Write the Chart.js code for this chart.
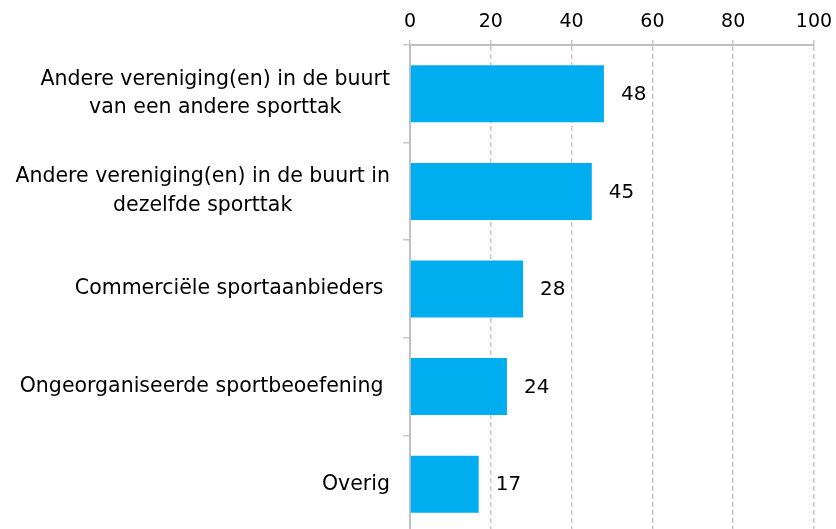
<!DOCTYPE html>
<html><head><meta charset="utf-8">
<script src="https://cdn.jsdelivr.net/npm/chart.js@4"></script>
<style>html,body{margin:0;padding:0;background:#fff;overflow:hidden;width:836px;height:529px}</style>
</head><body>
<canvas id="c" width="836" height="545"></canvas>
<script>
const categories = [
  ["Andere vereniging(en) in de buurt", "van een andere sporttak"],
  ["Andere vereniging(en) in de buurt in", "dezelfde sporttak"],
  ["Commerciële sportaanbieders "],
  ["Ongeorganiseerde sportbeoefening "],
  ["Overig"]
];
const values = [48, 45, 28, 24, 17];
const xTicks = [0, 20, 40, 60, 80, 100];

const FONT = '"DejaVu Sans", Verdana, sans-serif';
const GRID = '#c8c8c8';

const yLabelPlugin = {
  id: 'yLabels',
  afterDraw(chart) {
    const ctx = chart.ctx;
    const ys = chart.scales.y;
    const right = ys.right - 7 - 13;
    const lh = 28.5;
    ctx.save();
    ctx.font = '20.5px ' + FONT;
    ctx.fillStyle = '#000';
    ctx.textBaseline = 'middle';
    ctx.textAlign = 'center';
    categories.forEach((lines, i) => {
      const cy = ys.getPixelForTick(i);
      const w = Math.max(...lines.map(l => ctx.measureText(l).width));
      const cx = right - w / 2;
      lines.forEach((l, k) => {
        ctx.fillText(l, cx, cy - (lines.length - 1) * lh / 2 + k * lh);
      });
    });
    ctx.restore();
  }
};

const valueLabelPlugin = {
  id: 'valueLabels',
  afterDatasetsDraw(chart) {
    const ctx = chart.ctx;
    const meta = chart.getDatasetMeta(0);
    ctx.save();
    ctx.font = '20px ' + FONT;
    ctx.fillStyle = '#000';
    ctx.textBaseline = 'middle';
    ctx.textAlign = 'left';
    meta.data.forEach((bar, i) => {
      ctx.fillText(String(values[i]), bar.x + 17, bar.y + 1);
    });
    ctx.restore();
  }
};

new Chart(document.getElementById('c'), {
  type: 'bar',
  data: {
    labels: categories,
    datasets: [{
      data: values,
      backgroundColor: '#00AEEF',
      borderWidth: 0,
      barPercentage: 0.584,
      categoryPercentage: 1
    }]
  },
  options: {
    indexAxis: 'y',
    responsive: false,
    animation: false,
    devicePixelRatio: 1,
    layout: { padding: { left: 0, right: 22, top: 0, bottom: 12 } },
    plugins: { legend: { display: false }, tooltip: { enabled: false }, title: { display: false } },
    scales: {
      x: {
        position: 'top',
        min: 0, max: 100,
        afterBuildTicks: s => { s.ticks = xTicks.map(v => ({ value: v })); },
        afterFit: s => { s.height = 45; s.paddingLeft = 0; s.paddingRight = 0; },
        grid: { color: GRID, lineWidth: 1.5, tickLength: 5, drawTicks: true },
        border: { color: '#c0c0c0', width: 2, dash: [5, 3] },
        ticks: { font: { family: FONT, size: 19 }, color: '#000', padding: 7, maxRotation: 0 }
      },
      y: {
        afterFit: s => { s.width = 410; },
        grid: { drawOnChartArea: false, drawTicks: true, tickLength: 7, color: GRID, lineWidth: 1.5 },
        border: { color: '#c0c0c0', width: 2 },
        ticks: { display: false }
      }
    }
  },
  plugins: [yLabelPlugin, valueLabelPlugin]
});
</script>
</body></html>
